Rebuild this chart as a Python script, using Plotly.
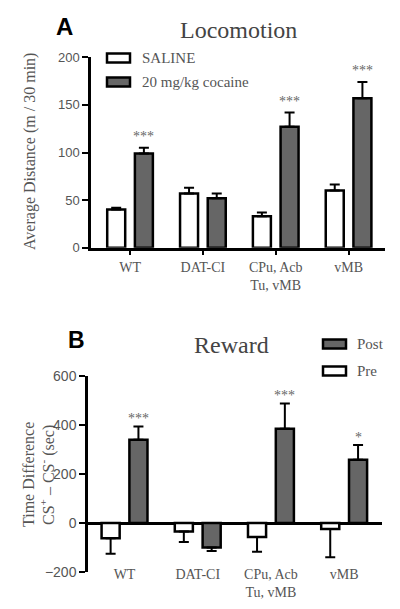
import plotly.graph_objects as go

# ---------------- data ----------------
groups_a = ["WT", "DAT-CI", "CPu, Acb<br>Tu, vMB", "vMB"]
saline = [40, 57, 33, 60]
saline_err = [2, 6, 4, 6.5]
cocaine = [99, 52, 127, 157]
cocaine_err = [6, 5, 15, 17]
sig_a = ["***", "", "***", "***"]

groups_b = ["WT", "DAT-CI", "CPu, Acb<br>Tu, vMB", "vMB"]
pre = [-62, -35, -57, -24]
pre_err = [63, 43, 60, 116]
post = [340, -100, 385, 258]
post_err = [54, 14, 103, 60]
sig_b = ["***", "", "***", "*"]

yticks_a = [0, 50, 100, 150, 200]
yticks_b = [-200, 0, 200, 400, 600]

# ---------------- helpers ----------------
# the page body has an 8px default margin, so the figure is drawn at (8, 8)
OX, OY = 8, 8
W, H = 400 - OX, 609 - OY
def PX(x):
    return (x - OX) / W
def PY(y):
    return 1 - (y - OY) / H

GRAY = "#666666"
TXT = "#555555"
SERIF = "Liberation Serif, DejaVu Serif, serif"
SANS = "Arial, Liberation Sans, sans-serif"
OFF = 0.19


def err_dict(vals, errs):
    up = [e if v >= 0 else 0 for v, e in zip(vals, errs)]
    dn = [e if v < 0 else 0 for v, e in zip(vals, errs)]
    return dict(type="data", symmetric=False, array=up, arrayminus=dn,
                color="black", thickness=2, width=5)


fig = go.Figure()
xa = list(range(len(groups_a)))
xb = list(range(len(groups_b)))

fig.add_trace(go.Bar(x=xa, y=saline, name="SALINE", error_y=err_dict(saline, saline_err),
                     marker=dict(color="white", line=dict(color="black", width=2.5)),
                     xaxis="x", yaxis="y", showlegend=False))
fig.add_trace(go.Bar(x=xa, y=cocaine, name="20 mg/kg cocaine", error_y=err_dict(cocaine, cocaine_err),
                     marker=dict(color=GRAY, line=dict(color="black", width=2.5)),
                     xaxis="x", yaxis="y", showlegend=False))
fig.add_trace(go.Bar(x=xb, y=pre, name="Pre", error_y=err_dict(pre, pre_err),
                     marker=dict(color="white", line=dict(color="black", width=2.5)),
                     xaxis="x2", yaxis="y2", showlegend=False))
fig.add_trace(go.Bar(x=xb, y=post, name="Post", error_y=err_dict(post, post_err),
                     marker=dict(color=GRAY, line=dict(color="black", width=2.5)),
                     xaxis="x2", yaxis="y2", showlegend=False))

annotations = []
shapes = []

# significance stars
for i, s in enumerate(sig_a):
    if s:
        annotations.append(dict(x=i + OFF, y=cocaine[i] + cocaine_err[i], xref="x", yref="y",
                                text=s, yanchor="bottom", yshift=2,
                                font=dict(family=SERIF, size=14, color=GRAY)))
for i, s in enumerate(sig_b):
    if s:
        annotations.append(dict(x=i + OFF, y=post[i] + post_err[i], xref="x2", yref="y2",
                                text=s, yanchor="bottom", yshift=-2,
                                font=dict(family=SERIF, size=14, color=GRAY)))

# titles / panel letters
annotations += [
    dict(x=PX(238), y=PY(30), text="Locomotion", font=dict(family=SERIF, size=24, color="#444444")),
    dict(x=PX(231), y=PY(345), text="Reward", font=dict(family=SERIF, size=24, color="#444444")),
    dict(x=PX(64.5), y=PY(27), text="<b>A</b>", font=dict(family=SANS, size=24, color="black")),
    dict(x=PX(76.5), y=PY(340), text="<b>B</b>", font=dict(family=SANS, size=23, color="black")),
    dict(x=PX(30), y=PY(152), text="Average Distance (m / 30 min)", textangle=-90,
         font=dict(family=SERIF, size=16, color=TXT)),
    dict(x=PX(28), y=PY(475), text="Time Difference", textangle=-90,
         font=dict(family=SERIF, size=16, color=TXT)),
    dict(x=PX(47), y=PY(475), text="CS<sup>+</sup> – CS<sup>-</sup> (sec)", textangle=-90,
         font=dict(family=SERIF, size=16, color=TXT)),
]

# manual legends
legend_items = [
    ("SALINE", "white", 58, 107, 140),
    ("20 mg/kg cocaine", GRAY, 82, 107, 140),
    ("Post", GRAY, 344, 323, 355),
    ("Pre", "white", 371, 323, 355),
]
for label, col, yc, x0, xt in legend_items:
    shapes.append(dict(type="rect", xref="paper", yref="paper",
                       x0=PX(x0), x1=PX(x0 + 23), y0=PY(yc - 4.5), y1=PY(yc + 4.5),
                       fillcolor=col, line=dict(color="black", width=2.5)))
    annotations.append(dict(x=PX(xt), y=PY(yc), text=label, xanchor="left",
                            font=dict(family=SERIF, size=15, color=TXT)))

for a in annotations:
    a.setdefault("xref", "paper")
    a.setdefault("yref", "paper")
    a.setdefault("xanchor", "center")
    a.setdefault("yanchor", "middle")
    a.setdefault("showarrow", False)

axis_common = dict(showgrid=False, linecolor="black", linewidth=2.5, fixedrange=True,
                   automargin=False)

fig.update_layout(
    width=W, height=H,
    margin=dict(l=0, r=0, t=0, b=0, autoexpand=False),
    paper_bgcolor="white", plot_bgcolor="white",
    barmode="group", bargap=0.24, bargroupgap=0.35,
    xaxis=dict(domain=[PX(91), PX(385)], range=[-0.536, 3.5], anchor="y",
               tickvals=xa, ticktext=groups_a, ticks="outside", ticklen=5, tickwidth=2,
               tickcolor="black", showline=True, zeroline=False,
               tickfont=dict(family=SERIF, size=14, color=TXT), **axis_common),
    yaxis=dict(domain=[PY(247.7), PY(57.3)], range=[0, 200], anchor="x",
               tickvals=yticks_a, ticks="outside", ticklen=6, tickwidth=2, tickcolor="black",
               showline=True, zeroline=False,
               tickfont=dict(family=SANS, size=13, color=TXT), **axis_common),
    xaxis2=dict(domain=[PX(88), PX(382)], range=[-0.499, 3.517], anchor="y2",
                tickvals=xb, ticktext=groups_b, ticks="", showline=False, zeroline=False,
                ticklabelstandoff=-8,
                tickfont=dict(family=SERIF, size=14, color=TXT), **axis_common),
    yaxis2=dict(domain=[PY(572), PY(376)], range=[-200, 600], anchor="x2",
                tickvals=yticks_b, ticks="outside", ticklen=6, tickwidth=2, tickcolor="black",
                showline=True, zeroline=True, zerolinecolor="black", zerolinewidth=2.5,
                tickfont=dict(family=SANS, size=14, color=TXT), **axis_common),
    annotations=annotations,
    shapes=shapes,
)

fig.write_html("out.html")
